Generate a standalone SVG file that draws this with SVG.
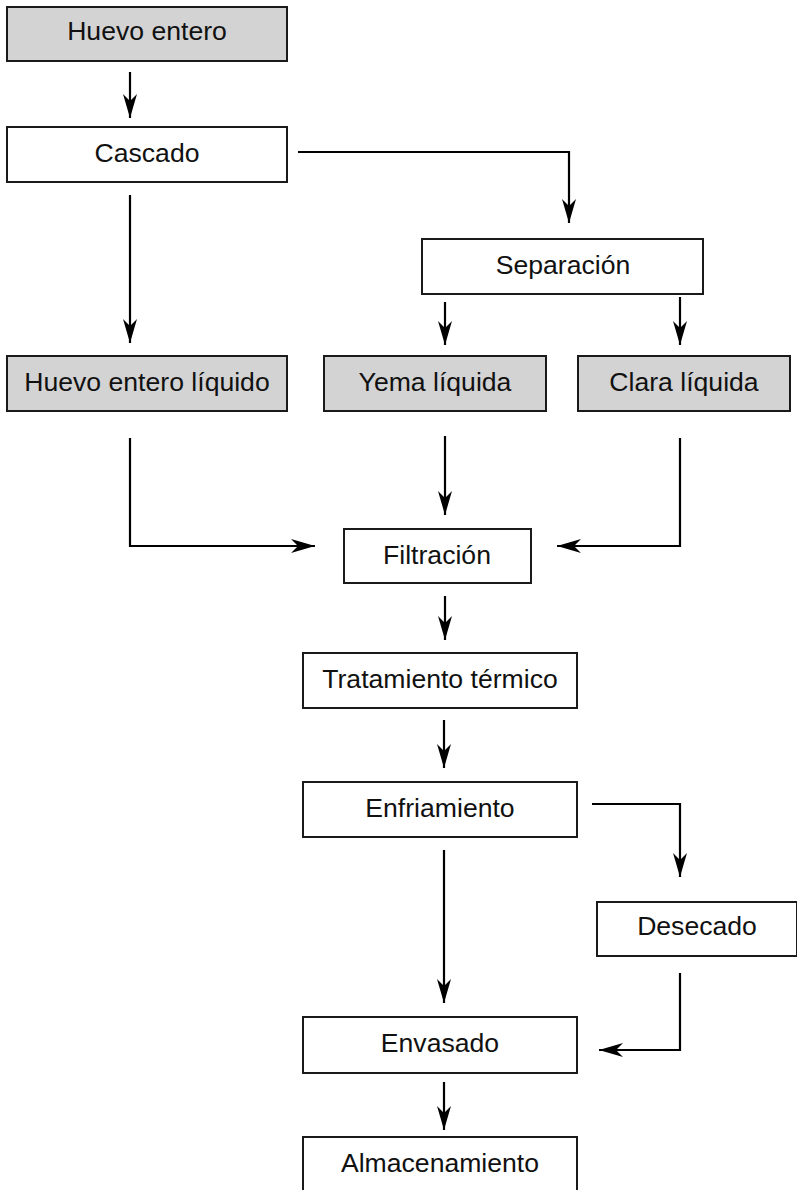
<svg xmlns="http://www.w3.org/2000/svg" width="797" height="1190" viewBox="0 0 797 1190">
<style>
.box{fill:#ffffff;stroke:#1a1a1a;stroke-width:2}
.gray{fill:#d3d3d3}
.lbl{font-family:"Liberation Sans",Arial,sans-serif;font-size:26.6px;fill:#111;text-anchor:middle}
.conn{fill:none;stroke:#000;stroke-width:2.2;marker-end:url(#ah)}
</style>
<defs>
<marker id="ah" markerUnits="userSpaceOnUse" markerWidth="26" markerHeight="16" refX="24" refY="7" orient="auto" viewBox="0 0 26 14">
<path d="M0,0 L24,7 L0,14 L7,7 z" fill="#000"/>
</marker>
</defs>
<rect width="797" height="1190" fill="#ffffff"/>
<g id="n-huevo-entero"><rect class="box gray" x="7" y="7" width="280" height="54"/><text class="lbl" x="147" y="40">Huevo entero</text></g>
<g id="n-cascado"><rect class="box" x="7" y="127" width="280" height="55"/><text class="lbl" x="147" y="162">Cascado</text></g>
<g id="n-separacion"><rect class="box" x="422" y="239" width="281" height="55"/><text class="lbl" x="563" y="274">Separación</text></g>
<g id="n-huevo-liquido"><rect class="box gray" x="7" y="356" width="280" height="55"/><text class="lbl" x="147" y="391">Huevo entero líquido</text></g>
<g id="n-yema"><rect class="box gray" x="324" y="356" width="222" height="55"/><text class="lbl" x="435" y="391">Yema líquida</text></g>
<g id="n-clara"><rect class="box gray" x="578" y="356" width="212" height="55"/><text class="lbl" x="684" y="391">Clara líquida</text></g>
<g id="n-filtracion"><rect class="box" x="344" y="529" width="187" height="54"/><text class="lbl" x="437" y="564">Filtración</text></g>
<g id="n-tratamiento"><rect class="box" x="303" y="653" width="274" height="55"/><text class="lbl" x="440" y="688">Tratamiento térmico</text></g>
<g id="n-enfriamiento"><rect class="box" x="303" y="782" width="274" height="55"/><text class="lbl" x="440" y="817">Enfriamiento</text></g>
<g id="n-desecado"><rect class="box" x="597" y="902" width="200" height="54"/><text class="lbl" x="697" y="935">Desecado</text></g>
<g id="n-envasado"><rect class="box" x="303" y="1017" width="274" height="56"/><text class="lbl" x="440" y="1052">Envasado</text></g>
<g id="n-almacenamiento"><rect class="box" x="303" y="1137" width="274" height="60"/><text class="lbl" x="440" y="1172">Almacenamiento</text></g>
<g id="connectors">
<path class="conn" d="M130,72 V118"/>
<path class="conn" d="M298,152 H569 V223"/>
<path class="conn" d="M130,195 V343"/>
<path class="conn" d="M445,302 V345"/>
<path class="conn" d="M680,297 V345"/>
<path class="conn" d="M130,438 V546 H315"/>
<path class="conn" d="M445,436 V515"/>
<path class="conn" d="M680,438 V546 H557"/>
<path class="conn" d="M445,596 V640"/>
<path class="conn" d="M444,720 V768"/>
<path class="conn" d="M592,804 H680 V877"/>
<path class="conn" d="M444,850 V1003"/>
<path class="conn" d="M680,973 V1050 H599"/>
<path class="conn" d="M444,1082 V1130"/>
</g>
</svg>
